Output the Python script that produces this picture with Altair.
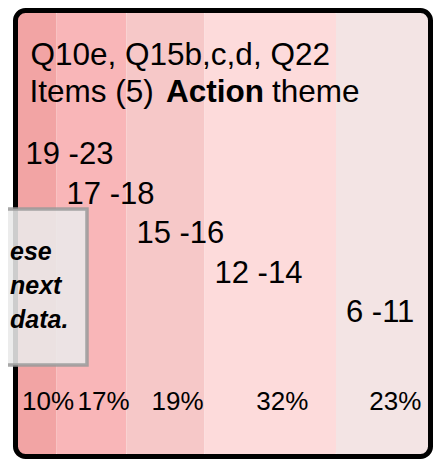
import altair as alt
import pandas as pd

# ---- data ----
percents = [10, 17, 19, 32, 23]
score_ranges = ["19 -23", "17 -18", "15 -16", "12 -14", "6 -11"]
band_colors = ["#f2a4a4", "#f9b6b8", "#f6c8c8", "#fddbdb", "#f3e4e4"]
title_line1 = "Q10e, Q15b,c,d, Q22"
title_line2 = ["Items (5)", "Action", "theme"]
callout_lines = ["ese", "next", "data."]

FONT = "Liberation Sans, Arial, Helvetica, sans-serif"

starts, ends, acc = [], [], 0
for p in percents:
    starts.append(acc)
    acc += p
    ends.append(acc)
total = acc

df = pd.DataFrame({
    "range": score_ranges,
    "pct": percents,
    "start": starts,
    "end": ends,
    "step": list(range(len(percents))),
})
df["mid"] = (df["start"] + df["end"]) / 2
df["label"] = df["pct"].astype(str) + "%"

frame_df = pd.DataFrame({"start": [0], "end": [total]})

xscale = alt.Scale(domain=[0, total], nice=False, zero=False)
yscale = alt.Scale(domain=[0, len(percents) - 1], range=[153.5, 311.5])

base = alt.Chart(df)

bands = base.mark_rect(cornerRadius=4, opacity=1).encode(
    x=alt.X("start:Q", scale=xscale, axis=None),
    x2="end:Q",
    color=alt.Color("range:N", scale=alt.Scale(domain=score_ranges, range=band_colors), legend=None),
)

frame = alt.Chart(frame_df).mark_rect(
    cornerRadius=10, stroke="black", strokeWidth=5, fill="white", fillOpacity=0
).encode(x=alt.X("start:Q", scale=xscale, axis=None), x2="end:Q")

range_labels = base.mark_text(
    align="left", baseline="alphabetic", dx=10, font=FONT, fontSize=31, color="black"
).encode(
    x=alt.X("start:Q", scale=xscale, axis=None),
    y=alt.Y("step:Q", scale=yscale, axis=None),
    text="range:N",
)

pct_labels = base.mark_text(
    align="center", baseline="alphabetic", dx=12, font=FONT, fontSize=26, color="black"
).encode(
    x=alt.X("mid:Q", scale=xscale, axis=None),
    y=alt.value(399.5),
    text="label:N",
)

def txt(s, x, y, size=31.5, weight="normal", style="normal", align="left"):
    return alt.Chart(pd.DataFrame({"t": [s]})).mark_text(
        align=align, baseline="alphabetic", font=FONT, fontSize=size,
        fontWeight=weight, fontStyle=style, color="black"
    ).encode(x=alt.value(x), y=alt.value(y), text="t:N")

title1 = txt(title_line1, 15, 54.5)
title2a = txt(title_line2[0], 14, 91.5)
title2b = txt(title_line2[1], 150.5, 91.5, weight="bold")
title2c = txt(title_line2[2], 256.5, 91.5)

callout_box = alt.Chart(pd.DataFrame({"a": [0]})).mark_rect(
    fill="#e9e9e9", fillOpacity=0.88, stroke="#9a9a9a", strokeWidth=3.5, strokeOpacity=0.85
).encode(x=alt.value(-17.5), x2=alt.value(71.5), y=alt.value(198.5), y2=alt.value(354.5))

callout_text = [
    txt(line, -5.5, yy, size=25, weight="bold", style="italic")
    for line, yy in zip(callout_lines, [249.5, 283.5, 317.5])
]

chart = alt.layer(
    bands, frame, range_labels, pct_labels, title1, title2a, title2b, title2c,
    callout_box, *callout_text
).properties(
    width=415,
    height=446,
    autosize=alt.AutoSizeParams(type="none"),
    padding={"left": 7.5, "top": 2.5, "right": 2.5, "bottom": 2.5},
).configure_view(strokeWidth=0)

chart.save("out.html", embed_options={"renderer": "svg", "actions": False})
